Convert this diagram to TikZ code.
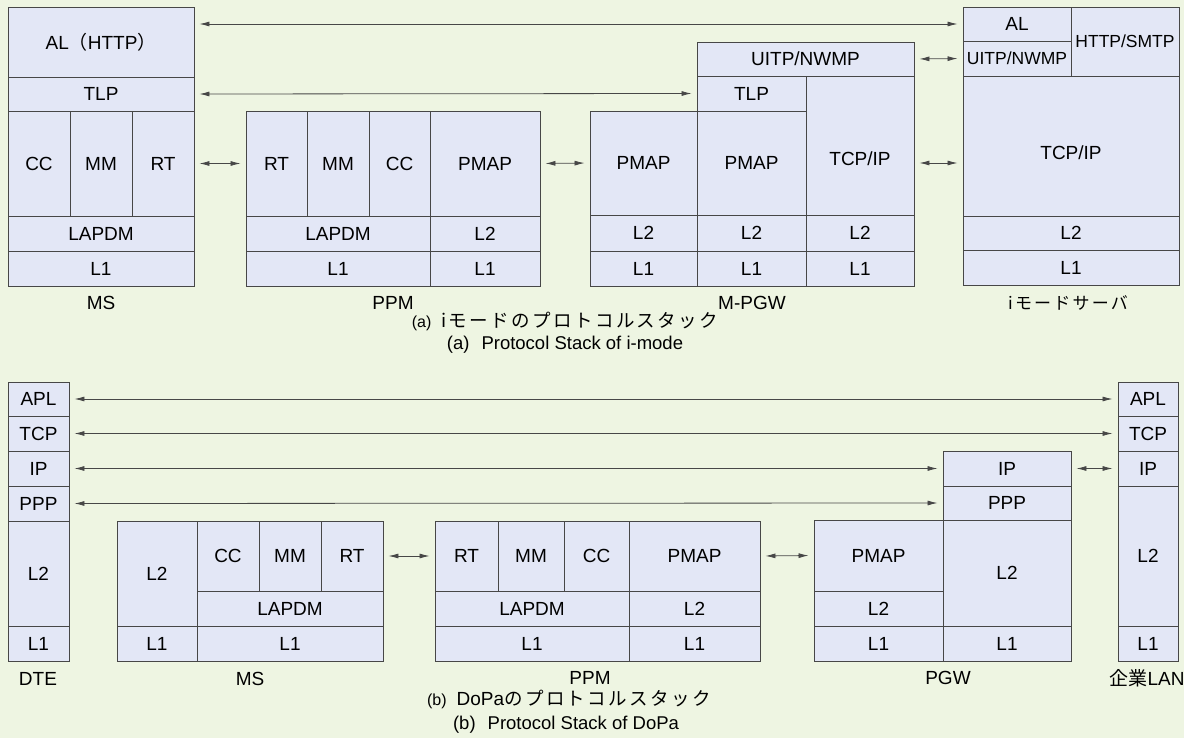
\documentclass[tikz,border=0pt]{standalone}
\usepackage{fontspec}
\setmainfont{Liberation Sans}
\newfontfamily\jp{Noto Sans CJK JP}
\newfontfamily\jpsp{Noto Sans CJK JP}[LetterSpace=13]
\usetikzlibrary{arrows.meta}
\definecolor{bgc}{HTML}{EEF5E2}
\definecolor{cellc}{HTML}{E3E7F6}
\definecolor{linec}{HTML}{474747}

% one layer of a stack: [options]{name}{x1}{y1}{x2}{y2}{text}
\newcommand{\layer}[7][]{%
  \node[cell,minimum width={(#5-#3)*1pt},minimum height={(#6-#4)*1pt},#1] (#2) at ({(#3+#5)/2},{(#4+#6)/2}) {#7};}

\begin{document}
\begin{tikzpicture}[
  x=1pt, y=-1pt,
  cell/.style={draw=linec,fill=cellc,line width=0.9pt,inner sep=0pt,font=\fontsize{19}{19}\selectfont},
  small/.style={font=\fontsize{17.5}{17.5}\selectfont},
  lbl/.style={inner sep=0pt,font=\fontsize{19}{19}\selectfont},
  arr/.style={{Latex[length=10pt,width=5pt]}-{Latex[length=10pt,width=5pt]},line width=0.8pt,draw=linec,shorten <=5pt,shorten >=5pt}
]
  \useasboundingbox (0,0) rectangle (1184,738);
  \fill[bgc] (0,0) rectangle (1184,738);

  % (a) i-mode
  \layer{msal}{8}{7}{194}{77}{AL{\jp （}HTTP{\jp ）}}
  \layer{mstlp}{8}{77}{194}{111}{TLP}
  \layer{mscc}{8}{111}{70}{216}{CC}
  \layer{msmm}{70}{111}{132}{216}{MM}
  \layer{msrt}{132}{111}{194}{216}{RT}
  \layer{mslapdm}{8}{216}{194}{251}{LAPDM}
  \layer{msla}{8}{251}{194}{286}{L1}

  \layer{pprt}{246}{111}{307}{216}{RT}
  \layer{ppmm}{307}{111}{369}{216}{MM}
  \layer{ppcc}{369}{111}{430}{216}{CC}
  \layer{pppmap}{430}{111}{540}{216}{PMAP}
  \layer{pplapdm}{246}{216}{430}{251}{LAPDM}
  \layer{ppl2}{430}{216}{540}{251}{L2}
  \layer{ppla}{246}{251}{430}{286}{L1}
  \layer{pplb}{430}{251}{540}{286}{L1}

  \layer{gwuitp}{697}{42}{914}{76}{UITP/NWMP}
  \layer{gwtlp}{697}{76}{806}{111}{TLP}
  \layer[text height=41pt,text depth=0pt]{gwtcp}{806}{76}{914}{215}{TCP/IP}
  \layer{gwpmapa}{590}{111}{697}{215}{PMAP}
  \layer{gwpmapb}{697}{111}{806}{215}{PMAP}
  \layer{gwtwoa}{590}{215}{697}{251}{L2}
  \layer{gwtwob}{697}{215}{806}{251}{L2}
  \layer{gwtwoc}{806}{215}{914}{251}{L2}
  \layer{gwonea}{590}{251}{697}{286}{L1}
  \layer{gwoneb}{697}{251}{806}{286}{L1}
  \layer{gwonec}{806}{251}{914}{286}{L1}

  \layer{sval}{963}{7}{1071}{41}{AL}
  \layer[small]{svuitp}{963}{41}{1071}{76}{UITP/NWMP}
  \layer[small]{svhttp}{1071}{7}{1179}{76}{HTTP/SMTP}
  \layer[text height=27pt,text depth=0pt]{svtcp}{963}{76}{1179}{216}{TCP/IP}
  \layer{svtwo}{963}{216}{1179}{250}{L2}
  \layer{svone}{963}{250}{1179}{285}{L1}

  \draw[arr] (msal.east |- sval.west) -- (sval.west);
  \draw[arr] (mstlp.east) -- (gwtlp.west);
  \draw[arr] (msrt.east) -- (pprt.west);
  \draw[arr] (pppmap.east) -- (gwpmapa.west);
  \draw[arr] (gwuitp.east) -- (svuitp.west);
  \draw[arr] (gwtcp.east |- gwpmapb.east) -- (svtcp.west |- gwpmapb.east);

  \node[lbl] (lms) at (101,303) {MS};
  \node[lbl] (lpp) at (393,303) {PPM};
  \node[lbl] (lgw) at (752,303) {M-PGW};
  \node[lbl,font=\jpsp\fontsize{17}{17}\selectfont] (lsv) at (1068,303) {iモードサーバ};
  \node[lbl] (capaj) at (565,321) {{\fontsize{16}{16}\selectfont (a)}\hspace{10pt}{\jpsp\fontsize{18.5}{18.5}\selectfont iモードのプロトコルスタック}};
  \node[lbl,font=\fontsize{18.5}{18.5}\selectfont] (capae) at (565,345) {(a)\hspace{12pt}Protocol Stack of i-mode};

  % (b) DoPa
  \layer{dteapl}{8}{382}{69}{416}{APL}
  \layer{dtetcp}{8}{416}{69}{451}{TCP}
  \layer{dteip}{8}{451}{69}{486}{IP}
  \layer{dteppp}{8}{486}{69}{521}{PPP}
  \layer{dtetwo}{8}{521}{69}{626}{L2}
  \layer{dteone}{8}{626}{69}{661}{L1}

  \layer{mbtwo}{117}{521}{197}{626}{L2}
  \layer{mbcc}{197}{521}{259}{591}{CC}
  \layer{mbmm}{259}{521}{321}{591}{MM}
  \layer{mbrt}{321}{521}{383}{591}{RT}
  \layer{mblapdm}{197}{591}{383}{626}{LAPDM}
  \layer{mbonea}{117}{626}{197}{661}{L1}
  \layer{mboneb}{197}{626}{383}{661}{L1}

  \layer{pbrt}{435}{521}{498}{591}{RT}
  \layer{pbmm}{498}{521}{564}{591}{MM}
  \layer{pbcc}{564}{521}{629}{591}{CC}
  \layer{pbpmap}{629}{521}{760}{591}{PMAP}
  \layer{pblapdm}{435}{591}{629}{626}{LAPDM}
  \layer{pbtwo}{629}{591}{760}{626}{L2}
  \layer{pbonea}{435}{626}{629}{661}{L1}
  \layer{pboneb}{629}{626}{760}{661}{L1}

  \layer{pgip}{943}{451}{1071}{486}{IP}
  \layer{pgppp}{943}{486}{1071}{520}{PPP}
  \layer{pgtwo}{943}{520}{1071}{626}{L2}
  \layer{pgpmap}{814}{520}{943}{591}{PMAP}
  \layer{pgtwoa}{814}{591}{943}{626}{L2}
  \layer{pgonea}{814}{626}{943}{661}{L1}
  \layer{pgoneb}{943}{626}{1071}{661}{L1}

  \layer{lanapl}{1118}{382}{1178}{416}{APL}
  \layer{lantcp}{1118}{416}{1178}{451}{TCP}
  \layer{lanip}{1118}{451}{1178}{486}{IP}
  \layer{lantwo}{1118}{486}{1178}{626}{L2}
  \layer{lanone}{1118}{626}{1178}{661}{L1}

  \draw[arr] (dteapl.east) -- (lanapl.west);
  \draw[arr] (dtetcp.east) -- (lantcp.west);
  \draw[arr] (dteip.east) -- (pgip.west);
  \draw[arr] (dteppp.east) -- (pgppp.west);
  \draw[arr] (mbrt.east) -- (pbrt.west);
  \draw[arr] (pbpmap.east) -- (pgpmap.west);
  \draw[arr] (pgip.east) -- (lanip.west);

  \node[lbl] (ldte) at (38,679) {DTE};
  \node[lbl] (lmb) at (250,679) {MS};
  \node[lbl] (lpb) at (590,678) {PPM};
  \node[lbl] (lpg) at (948,678) {PGW};
  \node[lbl] (llan) at (1147,678) {{\jp 企業}LAN};
  \node[lbl] (capbj) at (569,699) {{\fontsize{16}{16}\selectfont (b)}\hspace{10pt}DoPa{\jpsp\fontsize{18.5}{18.5}\selectfont のプロトコルスタック}};
  \node[lbl,font=\fontsize{18.5}{18.5}\selectfont] (capbe) at (566,725) {(b)\hspace{12pt}Protocol Stack of DoPa};
\end{tikzpicture}
\end{document}
